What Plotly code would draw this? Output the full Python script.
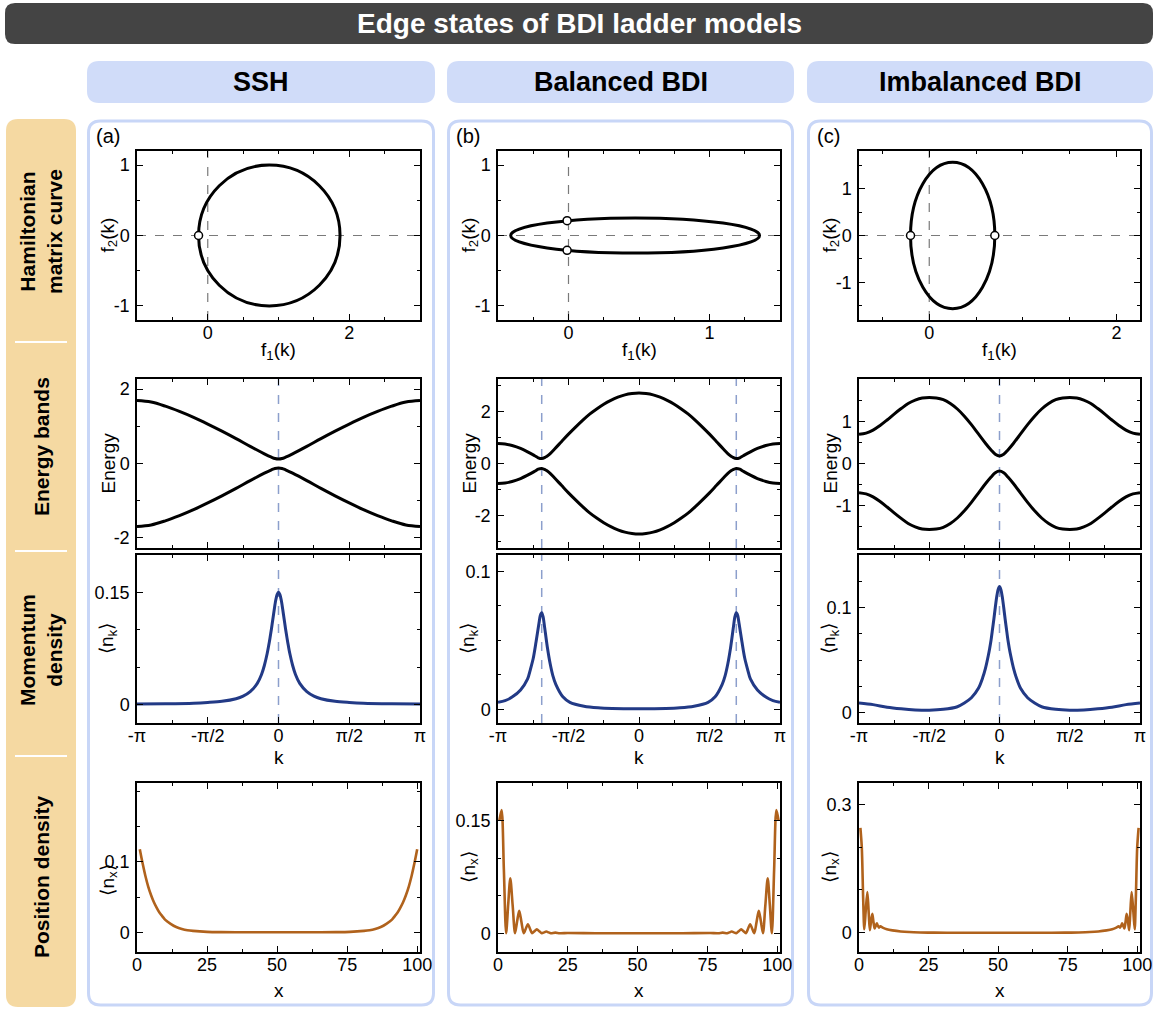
import math
import plotly.graph_objects as go

W, H = 1159, 1011
PI = math.pi
FONT = "Liberation Sans, Arial, Helvetica, sans-serif"

# ======================= DATA =======================
SSH_CURVE_F1 = [-0.13, 1.87]
SSH_CURVE_F2 = [-1.0, 1.0]
BAL_CURVE_F1 = [-0.41, 1.355]
BAL_CURVE_F2 = [-0.25, 0.25]
IMB_CURVE_F1 = [-0.20, 0.70]
IMB_CURVE_F2 = [-1.56, 1.56]
SSH_MARK_F1 = [-0.13]
SSH_MARK_F2 = [0.0]
BAL_MARK_F1 = [-0.01, -0.01]
BAL_MARK_F2 = [0.21, -0.21]
IMB_MARK_F1 = [-0.20, 0.70]
IMB_MARK_F2 = [0.0, 0.0]

SSH_BAND_K = [-1, -0.9, -0.8, -0.7, -0.6, -0.5, -0.4, -0.3, -0.2, -0.1, -0.05, -0.025, 0,
              0.025, 0.05, 0.1, 0.2, 0.3, 0.4, 0.5, 0.6, 0.7, 0.8, 0.9, 1]
SSH_BAND_UP = [1.69, 1.65, 1.54, 1.40, 1.24, 1.06, 0.87, 0.67, 0.46, 0.26, 0.17, 0.133, 0.12,
               0.133, 0.17, 0.26, 0.46, 0.67, 0.87, 1.06, 1.24, 1.40, 1.54, 1.65, 1.69]
SSH_BAND_DN = [-1.69, -1.65, -1.54, -1.40, -1.24, -1.06, -0.87, -0.67, -0.46, -0.26, -0.17, -0.133, -0.12,
               -0.133, -0.17, -0.26, -0.46, -0.67, -0.87, -1.06, -1.24, -1.40, -1.54, -1.65, -1.69]

BAL_BAND_K = [-1, -0.95, -0.9, -0.84, -0.79, -0.74, -0.715, -0.69, -0.665, -0.64, -0.6, -0.55, -0.5,
              -0.45, -0.4, -0.35, -0.3, -0.25, -0.2, -0.15, -0.1, -0.05, 0,
              0.05, 0.1, 0.15, 0.2, 0.25, 0.3, 0.35, 0.4, 0.45, 0.5, 0.55, 0.6, 0.64, 0.665, 0.69,
              0.715, 0.74, 0.79, 0.84, 0.9, 0.95, 1]
BAL_BAND_UP = [0.77, 0.75, 0.69, 0.58, 0.45, 0.30, 0.22, 0.19, 0.24, 0.33, 0.55, 0.84, 1.13,
               1.40, 1.66, 1.90, 2.10, 2.28, 2.43, 2.55, 2.64, 2.69, 2.71,
               2.69, 2.64, 2.55, 2.43, 2.28, 2.10, 1.90, 1.66, 1.40, 1.13, 0.84, 0.55, 0.33, 0.24, 0.19,
               0.22, 0.30, 0.45, 0.58, 0.69, 0.75, 0.77]
BAL_BAND_DN = [-0.77, -0.75, -0.69, -0.58, -0.45, -0.30, -0.22, -0.19, -0.24, -0.33, -0.55, -0.84, -1.13,
               -1.40, -1.66, -1.90, -2.10, -2.28, -2.43, -2.55, -2.64, -2.69, -2.71,
               -2.69, -2.64, -2.55, -2.43, -2.28, -2.10, -1.90, -1.66, -1.40, -1.13, -0.84, -0.55, -0.33, -0.24, -0.19,
               -0.22, -0.30, -0.45, -0.58, -0.69, -0.75, -0.77]

IMB_BAND_K = [-1, -0.95, -0.9, -0.85, -0.8, -0.75, -0.7, -0.65, -0.6, -0.55, -0.5, -0.45, -0.4, -0.35,
              -0.3, -0.25, -0.2, -0.15, -0.1, -0.06, -0.03, 0,
              0.03, 0.06, 0.1, 0.15, 0.2, 0.25, 0.3, 0.35, 0.4, 0.45, 0.5, 0.55, 0.6, 0.65, 0.7, 0.75,
              0.8, 0.85, 0.9, 0.95, 1]
IMB_BAND_UP = [0.69, 0.72, 0.79, 0.90, 1.03, 1.17, 1.30, 1.42, 1.50, 1.55, 1.56, 1.55, 1.51, 1.42,
               1.29, 1.12, 0.92, 0.70, 0.48, 0.32, 0.22, 0.18,
               0.22, 0.32, 0.48, 0.70, 0.92, 1.12, 1.29, 1.42, 1.51, 1.55, 1.56, 1.55, 1.50, 1.42, 1.30, 1.17,
               1.03, 0.90, 0.79, 0.72, 0.69]
IMB_BAND_DN = [-0.69, -0.72, -0.79, -0.90, -1.03, -1.17, -1.30, -1.42, -1.50, -1.55, -1.56, -1.55, -1.51, -1.42,
               -1.29, -1.12, -0.92, -0.70, -0.48, -0.32, -0.22, -0.18,
               -0.22, -0.32, -0.48, -0.70, -0.92, -1.12, -1.29, -1.42, -1.51, -1.55, -1.56, -1.55, -1.50, -1.42, -1.30, -1.17,
               -1.03, -0.90, -0.79, -0.72, -0.69]

SSH_GAP_K = [0.0]
BAL_GAP_K = [-0.69, 0.69]
IMB_GAP_K = [0.0]

SSH_NK_K = [-1, -0.8, -0.6, -0.5, -0.4, -0.3, -0.25, -0.2, -0.15, -0.12, -0.1, -0.08, -0.07, -0.06, -0.05,
            -0.04, -0.03, -0.02, -0.01, 0, 0.01, 0.02, 0.03, 0.04, 0.05, 0.06, 0.07, 0.08, 0.1, 0.12,
            0.15, 0.2, 0.25, 0.3, 0.4, 0.5, 0.6, 0.8, 1]
SSH_NK = [0.0005, 0.0008, 0.0015, 0.0025, 0.004, 0.0075, 0.011, 0.017, 0.028, 0.040, 0.052, 0.068, 0.078,
          0.089, 0.101, 0.114, 0.127, 0.139, 0.147, 0.150, 0.147, 0.139, 0.127, 0.114, 0.101, 0.089, 0.078,
          0.068, 0.052, 0.040, 0.028, 0.017, 0.011, 0.0075, 0.004, 0.0025, 0.0015, 0.0008, 0.0005]

BAL_NK_K = [-1, -0.95, -0.9, -0.84, -0.79, -0.77, -0.75, -0.73, -0.71, -0.70, -0.69, -0.68, -0.67, -0.65,
            -0.63, -0.61, -0.59, -0.54, -0.49, -0.39, -0.29, -0.19, 0,
            0.19, 0.29, 0.39, 0.49, 0.54, 0.59, 0.61, 0.63, 0.65, 0.67, 0.68, 0.69, 0.70, 0.71, 0.73,
            0.75, 0.77, 0.79, 0.84, 0.9, 0.95, 1]
BAL_NK = [0.005, 0.0062, 0.0088, 0.014, 0.022, 0.029, 0.037, 0.049, 0.062, 0.068, 0.070, 0.067, 0.060, 0.045,
          0.033, 0.024, 0.018, 0.009, 0.005, 0.0022, 0.001, 0.0005, 0.0003,
          0.0005, 0.001, 0.0022, 0.005, 0.009, 0.018, 0.024, 0.033, 0.045, 0.060, 0.067, 0.070, 0.068, 0.062, 0.049,
          0.037, 0.029, 0.022, 0.014, 0.0088, 0.0062, 0.005]

IMB_NK_K = [-1, -0.9, -0.8, -0.7, -0.6, -0.5, -0.4, -0.3, -0.25, -0.2, -0.15, -0.12, -0.1, -0.08, -0.07,
            -0.06, -0.05, -0.04, -0.03, -0.02, -0.01, 0, 0.01, 0.02, 0.03, 0.04, 0.05, 0.06, 0.07, 0.08,
            0.1, 0.12, 0.15, 0.2, 0.25, 0.3, 0.4, 0.5, 0.6, 0.7, 0.8, 0.9, 1]
IMB_NK = [0.009, 0.0075, 0.005, 0.0035, 0.0025, 0.0022, 0.003, 0.0055, 0.009, 0.014, 0.023, 0.033, 0.042,
          0.054, 0.061, 0.069, 0.079, 0.089, 0.100, 0.110, 0.117, 0.120, 0.117, 0.110, 0.100, 0.089, 0.079,
          0.069, 0.061, 0.054, 0.042, 0.033, 0.023, 0.014, 0.009, 0.0055, 0.003, 0.0022, 0.0025, 0.0035,
          0.005, 0.0075, 0.009]

SSH_POS_X = [1, 2, 3, 4, 5, 6, 7, 8, 9, 10, 12, 14, 16, 18, 20, 25, 30, 40, 50, 61, 71, 76,
             81, 83, 85, 87, 89, 91, 92, 93, 94, 95, 96, 97, 98, 99, 100]
SSH_POS = [0.118, 0.098, 0.080, 0.065, 0.053, 0.043, 0.035, 0.028, 0.023, 0.018, 0.012, 0.0075, 0.0048,
           0.003, 0.002, 0.0006, 0.0002, 0.0, 0.0, 0.0, 0.0002, 0.0006,
           0.002, 0.003, 0.0048, 0.0075, 0.012, 0.018, 0.023, 0.028, 0.035, 0.043, 0.053, 0.065, 0.080,
           0.098, 0.118]

BAL_POS_X = [0.5, 1.3, 2.1, 2.9, 3.65, 4.4, 5.25, 6.1, 6.85, 7.6, 8.4, 9.2, 9.95, 10.7, 11.45, 12.2,
             13.05, 13.9, 14.8, 15.7, 16.5, 17.3, 18.1, 18.9, 20.5, 22.1, 25, 35, 50,
             66, 76, 78.9, 80.5, 82.1, 82.9, 83.7, 84.5, 85.3, 86.2, 87.1, 87.95, 88.8, 89.55, 90.3,
             91.05, 91.8, 92.6, 93.4, 94.15, 94.9, 95.75, 96.6, 97.35, 98.1, 98.9, 99.7, 100.5]
BAL_POS = [0.150, 0.164, 0.085, 0.0, 0.038, 0.073, 0.037, 0.0, 0.016, 0.030, 0.015, 0.0, 0.006, 0.012,
           0.006, 0.0, 0.0026, 0.0052, 0.0026, 0.0, 0.0011, 0.0022, 0.0011, 0.0, 0.0008, 0.0, 0.0002, 0.0, 0.0,
           0.0, 0.0002, 0.0, 0.0008, 0.0, 0.0011, 0.0022, 0.0011, 0.0, 0.0026, 0.0052, 0.0026, 0.0, 0.006,
           0.012, 0.006, 0.0, 0.015, 0.030, 0.016, 0.0, 0.037, 0.073, 0.038, 0.0, 0.085, 0.164, 0.150]

IMB_POS_X = [0.5, 1.0, 1.5, 1.9, 2.4, 3.0, 3.5, 3.9, 4.3, 4.8, 5.2, 5.6, 6.0, 6.4, 6.8, 7.2, 7.7, 8.5,
             10, 12, 15, 18, 22, 27, 35, 50, 66, 74, 79, 83, 86, 89, 91, 92.5, 93.3, 93.8, 94.2, 94.6,
             95.0, 95.4, 95.8, 96.2, 96.7, 97.1, 97.5, 98.0, 98.6, 99.1, 99.5, 100.0, 100.5]
IMB_POS = [0.245, 0.20, 0.08, 0.008, 0.05, 0.095, 0.045, 0.006, 0.025, 0.044, 0.025, 0.010, 0.016, 0.022,
           0.016, 0.012, 0.015, 0.012, 0.008, 0.0055, 0.003, 0.0016, 0.0007, 0.0002, 0.0, 0.0, 0.0, 0.0002,
           0.0007, 0.0016, 0.003, 0.0055, 0.008, 0.012, 0.015, 0.012, 0.016, 0.022, 0.016, 0.010, 0.025,
           0.044, 0.025, 0.006, 0.045, 0.095, 0.05, 0.008, 0.08, 0.20, 0.245]

MAIN_TITLE = "Edge states of BDI ladder models"
COLUMN_TITLES = ["SSH", "Balanced BDI", "Imbalanced BDI"]
ROW_TITLES = ["Hamiltonian<br>matrix curve", "Energy bands", "Momentum<br>density", "Position density"]
PANEL_TAGS = ["(a)", "(b)", "(c)"]
K_TICKVALS = [-1, -0.5, 0, 0.5, 1]
K_TICKTEXT = ["-π", "-π/2", "0", "π/2", "π"]
K_MINOR = [-0.75, -0.25, 0.25, 0.75]

# ======================= LAYOUT GEOMETRY (pixels) =======================
COLS = [(137, 420), (498, 780), (859, 1140)]
ROWS = [(151, 320), (379, 548), (555, 723), (783, 952)]
PANEL_X = [(87, 435), (447, 794), (807, 1153)]

BLACK = "#000000"
BLUE = "#223a86"
BROWN = "#b0621c"
GUIDE_GRAY = "#7a7a7a"
GUIDE_BLUE = "#8c9fcc"
HEADER_BLUE = "#d0dcf9"
PANEL_BORDER = "#c8d6f7"
TAN = "#f5d9a2"
DARK = "#444444"


def fx(p):
    return p / W


def fy(p):
    return 1 - p / H


def aid(i):
    return "" if i == 1 else str(i)


def rounded(x0, y0, x1, y1, r):
    rx, ry = r / W, r / H
    X0, X1 = fx(x0), fx(x1)
    Y0, Y1 = fy(y0), fy(y1)
    return (f"M {X0 + rx} {Y0} L {X1 - rx} {Y0} Q {X1} {Y0} {X1} {Y0 - ry} "
            f"L {X1} {Y1 + ry} Q {X1} {Y1} {X1 - rx} {Y1} L {X0 + rx} {Y1} "
            f"Q {X0} {Y1} {X0} {Y1 + ry} L {X0} {Y0 - ry} Q {X0} {Y0} {X0 + rx} {Y0} Z")


def note(text, xp, yp, size=18, color="black", angle=0):
    return dict(text=text, x=fx(xp), y=fy(yp), xref="paper", yref="paper", showarrow=False,
                xanchor="center", yanchor="middle", textangle=angle,
                font=dict(size=size, color=color, family=FONT))


fig = go.Figure()
layout = dict(width=W, height=H, autosize=False, margin=dict(l=0, r=0, t=0, b=0, pad=0, autoexpand=False),
              template="none",
              paper_bgcolor="white", plot_bgcolor="rgba(0,0,0,0)", showlegend=False,
              font=dict(family=FONT, size=18, color="black"))
shapes = []
annotations = []

shapes.append(dict(type="path", xref="paper", yref="paper", path=rounded(5, 3, 1153, 44, 10),
                   fillcolor=DARK, line=dict(width=0), layer="below"))
annotations.append(note("<b>" + MAIN_TITLE + "</b>", 579, 23, size=28, color="white"))
for c, (x0, x1) in enumerate(PANEL_X):
    shapes.append(dict(type="path", xref="paper", yref="paper", path=rounded(x0, 61, x1, 103, 12),
                       fillcolor=HEADER_BLUE, line=dict(width=0), layer="below"))
    annotations.append(note("<b>" + COLUMN_TITLES[c] + "</b>", (x0 + x1) / 2, 82, size=27))
    shapes.append(dict(type="path", xref="paper", yref="paper",
                       path=rounded(x0 + 1.5, 121, x1 - 1.5, 1005, 12),
                       fillcolor="white", line=dict(width=3, color=PANEL_BORDER), layer="below"))
    annotations.append(note(PANEL_TAGS[c], x0 + 21, 136, size=20))

shapes.append(dict(type="path", xref="paper", yref="paper", path=rounded(6, 119, 76, 1007, 12),
                   fillcolor=TAN, line=dict(width=0), layer="below"))
for ysep in [342, 551, 756]:
    shapes.append(dict(type="line", xref="paper", yref="paper", x0=fx(15), x1=fx(67), y0=fy(ysep), y1=fy(ysep),
                       line=dict(color="white", width=2), layer="below"))
ROW_LABEL_Y = [232, 447, 650, 877]
for r, t in enumerate(ROW_TITLES):
    annotations.append(note("<b>" + t + "</b>", 41, ROW_LABEL_Y[r], size=21, angle=-90))


def fmt(v):
    return "%g" % v


def set_axes(r, c, xrange_, yrange_, xt, yt, xminor, yminor, xtext=None, ytext=None, show_x=True):
    i = r * 3 + c + 1
    common = dict(showline=True, linecolor="black", linewidth=1.5, mirror="ticks", ticks="inside",
                  ticklen=6, tickwidth=1.3, tickcolor="black", showgrid=False, zeroline=False,
                  tickmode="array", fixedrange=True, automargin=False,
                  tickfont=dict(family=FONT, size=18, color="black"))
    xa = dict(common, domain=[fx(COLS[c][0]), fx(COLS[c][1])], range=xrange_, anchor="y" + aid(i),
              tickvals=xt, ticktext=xtext if xtext else [fmt(v) for v in xt], showticklabels=show_x,
              ticklabelstandoff=-4,
              minor=dict(tickmode="array", tickvals=xminor, ticks="inside", ticklen=3.5, tickwidth=1.1,
                         tickcolor="black", showgrid=False))
    ya = dict(common, domain=[fy(ROWS[r][1]), fy(ROWS[r][0])], range=yrange_, anchor="x" + aid(i),
              tickvals=yt, ticktext=ytext if ytext else [fmt(v) for v in yt], ticklabelstandoff=2,
              minor=dict(tickmode="array", tickvals=yminor, ticks="inside", ticklen=3.5, tickwidth=1.1,
                         tickcolor="black", showgrid=False))
    layout["xaxis" + aid(i)] = xa
    layout["yaxis" + aid(i)] = ya
    return "x" + aid(i), "y" + aid(i)


def ytitle(r, c, text, dy=0):
    annotations.append(note(text, COLS[c][0] - 29, (ROWS[r][0] + ROWS[r][1]) / 2 + dy, size=19, angle=-90))


def xtitle(c, text, ypix):
    annotations.append(note(text, (COLS[c][0] + COLS[c][1]) / 2, ypix, size=19))


def kpi(lst):
    return [v * PI for v in lst]


KRANGE = [-PI, PI]
KT = kpi(K_TICKVALS)
KM = kpi(K_MINOR)

row1 = [
    (SSH_CURVE_F1, SSH_CURVE_F2, SSH_MARK_F1, SSH_MARK_F2, [-1, 3], [-1.2, 1.2], [0, 2],
     [-1, -0.5, 0.5, 1, 1.5, 2.5], [-1, 0, 1], [-0.5, 0.5]),
    (BAL_CURVE_F1, BAL_CURVE_F2, BAL_MARK_F1, BAL_MARK_F2, [-0.5, 1.5], [-1.2, 1.2], [0, 1],
     [-0.25, 0.25, 0.5, 0.75, 1.25], [-1, 0, 1], [-0.5, 0.5]),
    (IMB_CURVE_F1, IMB_CURVE_F2, IMB_MARK_F1, IMB_MARK_F2, [-0.75, 2.25], [-1.8, 1.8], [0, 2],
     [-0.5, 0.5, 1, 1.5], [-1, 0, 1], [-1.5, -0.5, 0.5, 1.5]),
]
for c, (cf1, cf2, mf1, mf2, xr, yr, xt, xm, yt, ym) in enumerate(row1):
    xa, ya = set_axes(0, c, xr, yr, xt, yt, xm, ym)
    shapes.append(dict(type="line", xref=xa, yref=ya + " domain", x0=0, x1=0, y0=0, y1=1,
                       line=dict(color=GUIDE_GRAY, width=1.2, dash="dash"), layer="below"))
    shapes.append(dict(type="line", xref=xa + " domain", yref=ya, x0=0, x1=1, y0=0, y1=0,
                       line=dict(color=GUIDE_GRAY, width=1.2, dash="dash"), layer="below"))
    shapes.append(dict(type="circle", xref=xa, yref=ya, x0=cf1[0], x1=cf1[1], y0=cf2[0], y1=cf2[1],
                       line=dict(color=BLACK, width=3), layer="below"))
    fig.add_trace(go.Scatter(x=mf1, y=mf2, mode="markers", xaxis=xa, yaxis=ya,
                             marker=dict(size=8, color="white", line=dict(color="black", width=1.5))))
    ytitle(0, c, "f<sub>2</sub>(k)")
    xtitle(c, "f<sub>1</sub>(k)", 351)

row2 = [
    (SSH_BAND_K, SSH_BAND_UP, SSH_BAND_DN, SSH_GAP_K, [-2.27, 2.27], [-2, 0, 2], [-1, 1]),
    (BAL_BAND_K, BAL_BAND_UP, BAL_BAND_DN, BAL_GAP_K, [-3.25, 3.25], [-2, 0, 2], [-3, -1, 1, 3]),
    (IMB_BAND_K, IMB_BAND_UP, IMB_BAND_DN, IMB_GAP_K, [-2, 2], [-1, 0, 1], [-1.5, -0.5, 0.5, 1.5]),
]
for c, (kk, up, dn, gk, yr, yt, ym) in enumerate(row2):
    xa, ya = set_axes(1, c, KRANGE, yr, KT, yt, KM, ym, xtext=K_TICKTEXT, show_x=False)
    for g in kpi(gk):
        shapes.append(dict(type="line", xref=xa, yref=ya + " domain", x0=g, x1=g, y0=0, y1=1,
                           line=dict(color=GUIDE_BLUE, width=1.5, dash="dash"), layer="below"))
    for band in (up, dn):
        fig.add_trace(go.Scatter(x=kpi(kk), y=band, mode="lines", xaxis=xa, yaxis=ya,
                                 line=dict(color=BLACK, width=3, shape="spline", smoothing=1.0)))
    ytitle(1, c, "Energy")

row3 = [
    (SSH_NK_K, SSH_NK, SSH_GAP_K, [-0.025, 0.2], [0, 0.15], [0.05, 0.1]),
    (BAL_NK_K, BAL_NK, BAL_GAP_K, [-0.01, 0.112], [0, 0.1], [0.025, 0.05, 0.075]),
    (IMB_NK_K, IMB_NK, IMB_GAP_K, [-0.01, 0.15], [0, 0.1], [0.025, 0.05, 0.075, 0.125]),
]
for c, (kk, nk, gk, yr, yt, ym) in enumerate(row3):
    xa, ya = set_axes(2, c, KRANGE, yr, KT, yt, KM, ym, xtext=K_TICKTEXT)
    for g in kpi(gk):
        shapes.append(dict(type="line", xref=xa, yref=ya + " domain", x0=g, x1=g, y0=0, y1=1,
                           line=dict(color=GUIDE_BLUE, width=1.5, dash="dash"), layer="below"))
    fig.add_trace(go.Scatter(x=kpi(kk), y=nk, mode="lines", xaxis=xa, yaxis=ya,
                             line=dict(color=BLUE, width=3, shape="spline", smoothing=0.8)))
    ytitle(2, c, "⟨n<sub>k</sub>⟩")
    xtitle(c, "k", 757)

row4 = [
    (SSH_POS_X, SSH_POS, [-0.028, 0.212], [0, 0.1], [0.05, 0.15, 0.2]),
    (BAL_POS_X, BAL_POS, [-0.025, 0.2], [0, 0.15], [0.05, 0.1]),
    (IMB_POS_X, IMB_POS, [-0.045, 0.35], [0, 0.3], [0.1, 0.2]),
]
for c, (xx, nn, yr, yt, ym) in enumerate(row4):
    xa, ya = set_axes(3, c, [0, 101], yr, [0, 25, 50, 75, 100], yt, [12.5, 37.5, 62.5, 87.5], ym)
    fig.add_trace(go.Scatter(x=xx, y=nn, mode="lines", xaxis=xa, yaxis=ya,
                             line=dict(color=BROWN, width=2.6, shape="spline", smoothing=0.8)))
    ytitle(3, c, "⟨n<sub>x</sub>⟩", dy=13 if c == 0 else 0)
    xtitle(c, "x", 990)

layout["shapes"] = shapes
layout["annotations"] = annotations
fig.update_layout(**layout)

POST = ("document.documentElement.style.margin='0';document.body.style.margin='0';"
        "document.body.style.padding='0';document.body.style.overflow='hidden';"
        "var gd=document.getElementById('{plot_id}');gd.style.position='absolute';"
        "gd.style.left='0px';gd.style.top='0px';")
fig.write_html("out.html", config={"displayModeBar": False, "responsive": False}, post_script=POST)
